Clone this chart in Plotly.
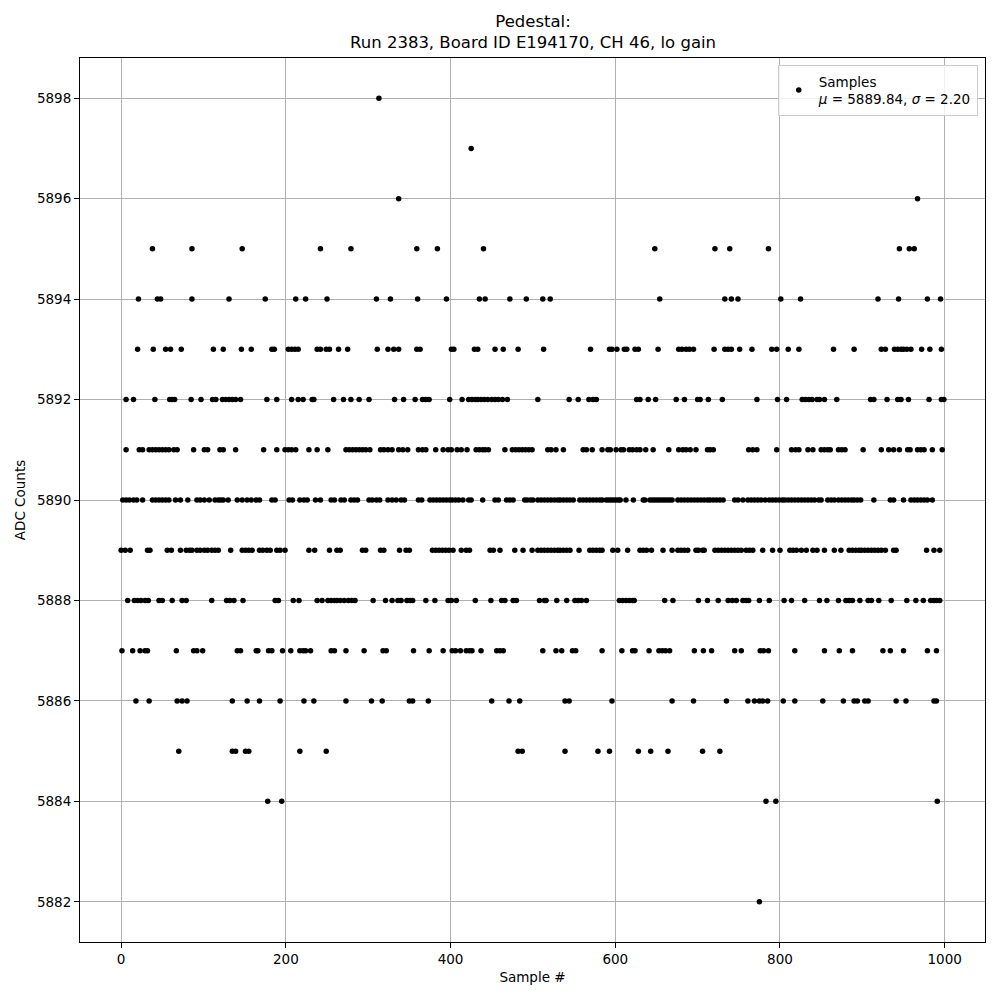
import plotly.graph_objects as go

# ADC value levels and the sample numbers at each level
s5898 = [313]
s5897 = [425]
s5896 = [337, 967]
s5895 = [38, 86, 147, 242, 279, 359, 384, 440, 648, 721, 739, 786, 945, 957, 963]
s5894 = [21, 44, 48, 86, 131, 175, 212, 224, 250, 310, 327, 360, 395, 435, 442, 472, 492, 512, 521,
         654, 733, 741, 749, 801, 825, 919, 944, 979, 995]
s5893 = [20, 39, 54, 60, 73, 112, 124, 146, 158, 183, 186, 203, 207, 211, 215, 238, 242, 249, 253, 264,
         275, 311, 324, 331, 337, 359, 363, 401, 404, 429, 433, 454, 464, 482, 513, 570, 593, 596, 602,
         611, 614, 624, 628, 652, 677, 681, 686, 690, 695, 720, 733, 737, 741, 751, 766, 790, 796, 810,
         823, 865, 890, 923, 928, 939, 943, 947, 950, 954, 959, 972, 982, 996]
s5892 = [6, 15, 41, 59, 62, 65, 85, 97, 111, 115, 123, 127, 131, 135, 139, 145, 177, 189, 207, 215, 221,
         232, 234, 258, 270, 279, 289, 301, 332, 343, 357, 366, 370, 374, 399, 414, 422, 426, 430, 433,
         437, 441, 445, 450, 454, 458, 463, 469, 506, 544, 555, 568, 573, 577, 626, 630, 640, 649, 674,
         684, 700, 703, 713, 730, 772, 797, 808, 827, 831, 835, 839, 845, 848, 854, 869, 910, 914, 930,
         943, 947, 956, 981, 996, 999]
s5891 = [6, 22, 26, 34, 38, 42, 46, 50, 54, 58, 64, 68, 88, 101, 105, 120, 124, 139, 173, 189, 199, 203,
         207, 212, 228, 238, 251, 273, 277, 281, 285, 289, 293, 297, 302, 315, 319, 324, 329, 337, 342,
         348, 361, 366, 370, 382, 391, 397, 401, 408, 413, 420, 431, 435, 439, 442, 446, 466, 475, 479,
         483, 487, 491, 495, 499, 518, 522, 528, 537, 561, 565, 572, 584, 591, 594, 601, 607, 610, 617,
         621, 626, 630, 637, 646, 665, 677, 682, 686, 691, 698, 712, 715, 719, 762, 767, 772, 796, 814,
         819, 823, 834, 840, 850, 854, 858, 861, 871, 875, 879, 901, 923, 932, 938, 945, 955, 958, 967,
         971, 975, 985, 997]
s5890 = [2, 6, 10, 15, 19, 26, 38, 42, 46, 50, 54, 58, 66, 72, 81, 92, 96, 101, 107, 114, 118, 121, 124,
         130, 141, 147, 153, 158, 164, 168, 183, 187, 204, 208, 217, 222, 226, 236, 242, 255, 259, 267,
         271, 279, 283, 287, 301, 305, 310, 314, 324, 329, 334, 340, 344, 361, 365, 375, 379, 383, 387,
         391, 395, 399, 402, 406, 410, 415, 422, 425, 439, 454, 458, 468, 472, 476, 490, 493, 497, 500,
         506, 510, 514, 518, 522, 526, 530, 533, 537, 541, 545, 549, 557, 561, 565, 569, 573, 577, 581,
         584, 589, 592, 595, 598, 601, 604, 606, 613, 622, 634, 636, 642, 645, 648, 651, 654, 657, 660,
         663, 666, 669, 676, 680, 684, 688, 692, 696, 700, 704, 708, 712, 715, 719, 723, 727, 731, 745,
         749, 755, 761, 765, 769, 773, 777, 782, 787, 791, 795, 799, 803, 806, 810, 814, 818, 822, 826,
         830, 834, 838, 842, 847, 850, 858, 862, 866, 871, 875, 879, 883, 887, 890, 894, 898, 914, 934,
         938, 950, 959, 963, 967, 971, 975, 979, 985]
s5889 = [0, 5, 11, 32, 35, 56, 61, 72, 79, 83, 86, 92, 96, 101, 105, 110, 114, 118, 133, 147, 151, 155,
         159, 168, 172, 177, 181, 189, 193, 199, 228, 235, 253, 262, 266, 293, 297, 315, 319, 338, 346,
         350, 378, 382, 386, 390, 394, 398, 403, 413, 419, 423, 448, 452, 460, 478, 488, 499, 506, 510,
         514, 518, 522, 526, 530, 533, 537, 541, 545, 556, 569, 573, 577, 581, 584, 597, 603, 615, 630,
         634, 638, 644, 658, 669, 676, 680, 684, 688, 698, 701, 706, 708, 721, 725, 729, 733, 737, 741,
         745, 749, 753, 759, 763, 767, 779, 791, 800, 812, 816, 820, 826, 832, 840, 845, 854, 866, 874,
         884, 888, 892, 896, 899, 903, 907, 911, 915, 919, 923, 928, 938, 941, 978, 987, 994]
s5888 = [8, 16, 20, 24, 29, 33, 46, 50, 62, 74, 79, 110, 128, 132, 137, 148, 187, 191, 209, 216, 238, 244,
         251, 255, 259, 262, 266, 271, 276, 280, 284, 306, 321, 329, 336, 340, 347, 351, 354, 370, 381,
         397, 401, 407, 430, 449, 462, 466, 476, 480, 508, 514, 516, 529, 541, 551, 555, 559, 565, 605,
         609, 613, 617, 621, 623, 660, 670, 701, 712, 725, 737, 742, 747, 755, 759, 762, 775, 787, 805,
         814, 830, 848, 857, 871, 880, 884, 888, 897, 907, 911, 920, 935, 954, 965, 974, 983, 987, 990,
         994]
s5887 = [1, 14, 23, 29, 32, 67, 88, 92, 99, 141, 145, 164, 166, 179, 183, 196, 206, 217, 221, 224, 230,
         255, 259, 273, 295, 318, 322, 355, 374, 391, 402, 406, 412, 419, 423, 426, 437, 456, 460, 464,
         512, 528, 535, 548, 552, 584, 608, 621, 624, 641, 653, 657, 661, 666, 696, 707, 717, 745, 753,
         776, 780, 786, 818, 854, 872, 888, 925, 934, 950, 979, 990]
s5886 = [18, 34, 68, 74, 80, 135, 153, 168, 193, 222, 234, 273, 304, 317, 350, 354, 373, 450, 471, 484,
         539, 544, 596, 669, 695, 735, 761, 769, 775, 779, 785, 804, 818, 852, 877, 890, 894, 903, 907,
         941, 953, 987, 990]
s5885 = [70, 135, 139, 151, 155, 217, 249, 482, 487, 539, 579, 593, 628, 643, 664, 706, 727]
s5884 = [178, 195, 783, 795, 991]
s5882 = [775]

levels = [5898, 5897, 5896, 5895, 5894, 5893, 5892, 5891, 5890, 5889, 5888, 5887, 5886, 5885, 5884, 5882]
level_samples = [s5898, s5897, s5896, s5895, s5894, s5893, s5892, s5891, s5890, s5889, s5888, s5887,
                 s5886, s5885, s5884, s5882]

x_ticks = [0, 200, 400, 600, 800, 1000]
y_ticks = [5882, 5884, 5886, 5888, 5890, 5892, 5894, 5896, 5898]

pairs = sorted((s, lvl) for lvl, ss in zip(levels, level_samples) for s in ss)
xs = [p[0] for p in pairs]
ys = [p[1] for p in pairs]

FONT = "DejaVu Sans"
fig = go.Figure()
fig.add_trace(go.Scatter(
    x=xs, y=ys, mode="markers",
    marker=dict(color="black", size=5.5, line=dict(width=0)),
    name="Samples<br><i>μ</i> = 5889.84, <i>σ</i> = 2.20",
    showlegend=True,
))

axis_common = dict(
    showline=True, linecolor="black", linewidth=1.1, mirror=True,
    ticks="outside", ticklen=5, tickwidth=1.1, tickcolor="black",
    showgrid=True, gridcolor="#b0b0b0", gridwidth=1.1, zeroline=False,
    tickfont=dict(family=FONT, size=13.5, color="black"), automargin=False,
)
fig.update_xaxes(range=[-49.95, 1048.95], tickvals=x_ticks,
                 title=dict(text="Sample #", font=dict(family=FONT, size=13.5, color="black"), standoff=6),
                 **axis_common)
fig.update_yaxes(range=[5881.2, 5898.8], tickvals=y_ticks,
                 title=dict(text="ADC Counts", font=dict(family=FONT, size=13.5, color="black"), standoff=8),
                 **axis_common)

# page body adds an 8 px offset; margins compensate so the axes land at 80..985 x 58..942
fig.update_layout(
    width=1000, height=1000,
    margin=dict(l=72, r=23, t=50, b=66),
    plot_bgcolor="white", paper_bgcolor="white",
    font=dict(family=FONT, size=13.5, color="black"),
    legend=dict(x=0.992, y=0.992, xanchor="right", yanchor="top",
                bgcolor="rgba(255,255,255,0.8)", bordercolor="#cccccc", borderwidth=1,
                font=dict(family=FONT, size=13.5, color="black"), itemsizing="trace"),
    annotations=[dict(text="Pedestal:<br>Run 2383, Board ID E194170, CH 46, lo gain",
                      xref="paper", yref="paper", x=0.5, y=1, xanchor="center", yanchor="bottom",
                      yshift=4, showarrow=False, font=dict(family=FONT, size=16.5, color="black"))],
)

fig.write_html("out.html")
